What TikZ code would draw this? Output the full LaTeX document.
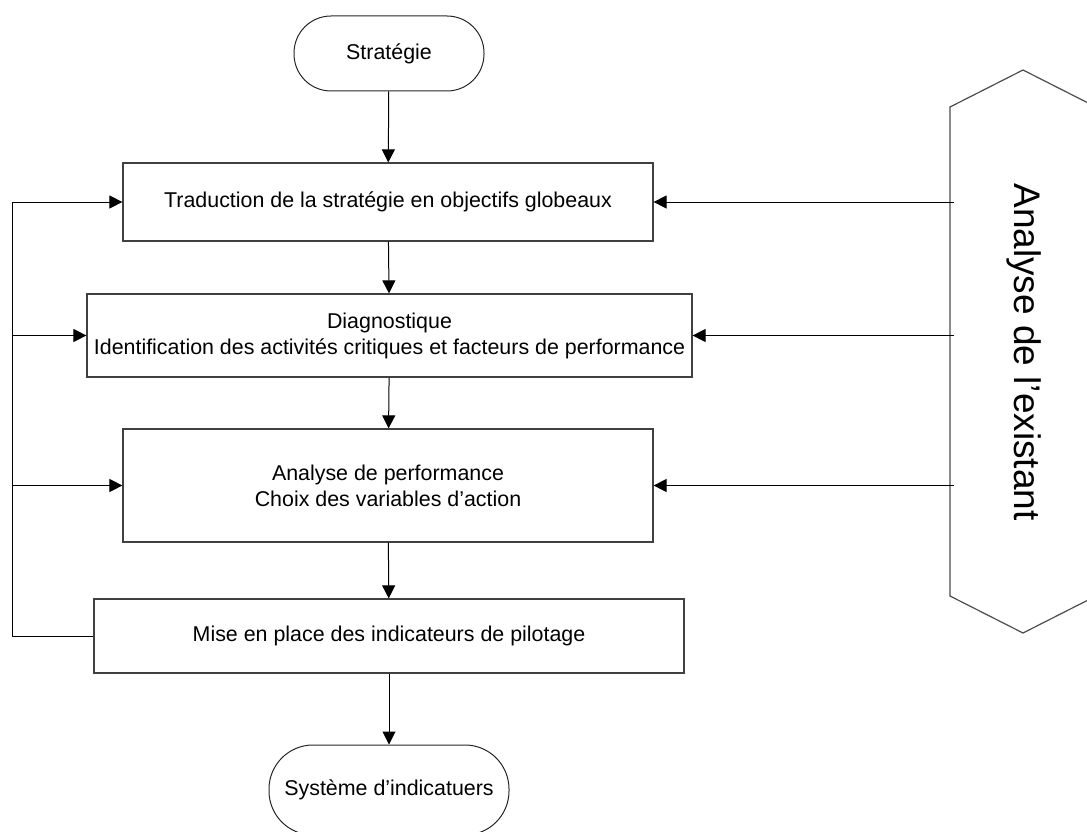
\documentclass[tikz,border=0pt]{standalone}
\usepackage{fontspec}
\setmainfont{Liberation Sans}
\usetikzlibrary{arrows.meta}
\begin{document}
\begin{tikzpicture}[x=1pt,y=-1pt,
  every node/.style={font=\fontsize{21.4}{26}\selectfont},
  stepbox/.style={draw=black!75, line width=1.2pt, align=center, inner sep=0pt},
  terminal/.style={draw=black!85, line width=1pt, align=center, inner sep=0pt},
  conn/.style={draw=black, line width=1pt},
  arr/.style={conn, -{Triangle[length=13pt,width=13pt]}},
  hexline/.style={draw=black!70, line width=1.2pt}
]
\useasboundingbox (0,0) rectangle (1087,832);
\clip (0,0) rectangle (1087,832);

% terminals
\node[terminal, minimum width=190pt, minimum height=75pt, rounded corners=37pt] (strat) at (389,53.5) {Stratégie};
\node[terminal, minimum width=240pt, minimum height=90pt, rounded corners=44pt] (sys) at (389,790) {Système d’indicatuers};

% process steps
\node[stepbox, minimum width=530pt, minimum height=78pt] (b1) at (388,202) {Traduction de la stratégie en objectifs globeaux};
\node[stepbox, minimum width=605pt, minimum height=83pt] (b2) at (389.5,335.5) {Diagnostique\\Identification des activités critiques et facteurs de performance};
\node[stepbox, minimum width=530pt, minimum height=113pt] (b3) at (388,485.5) {Analyse de performance\\Choix des variables d’action};
\node[stepbox, minimum width=590pt, minimum height=74pt] (b4) at (389,636) {Mise en place des indicateurs de pilotage};

% analysis of the existing situation
\draw[hexline] (950,107) -- (1023,70) -- (1096,107) -- (1096,596) -- (1023,633) -- (950,596) -- cycle;
\node[rotate=-90, font=\fontsize{37}{40}\selectfont] (ana) at (1024,352) {Analyse de l’existant};

% main flow
\draw[arr] (strat) -- (b1);
\draw[arr] (b1) -- (b2);
\draw[arr] (b2) -- (b3);
\draw[arr] (b3) -- (b4);
\draw[arr] (b4) -- (sys);

% feedback loop on the left
\coordinate (l1) at (12,202);
\coordinate (l2) at (12,335.5);
\coordinate (l3) at (12,485.5);
\coordinate (l4) at (12,636);
\draw[conn] (b4.west) -- (l4) -- (l1);
\draw[arr] (l1) -- (b1.west);
\draw[arr] (l2) -- (b2.west);
\draw[arr] (l3) -- (b3.west);

% inputs from the right
\coordinate (r1) at (954,202);
\coordinate (r2) at (954,335.5);
\coordinate (r3) at (954,485.5);
\draw[arr] (r1) -- (b1.east);
\draw[arr] (r2) -- (b2.east);
\draw[arr] (r3) -- (b3.east);
\end{tikzpicture}
\end{document}
